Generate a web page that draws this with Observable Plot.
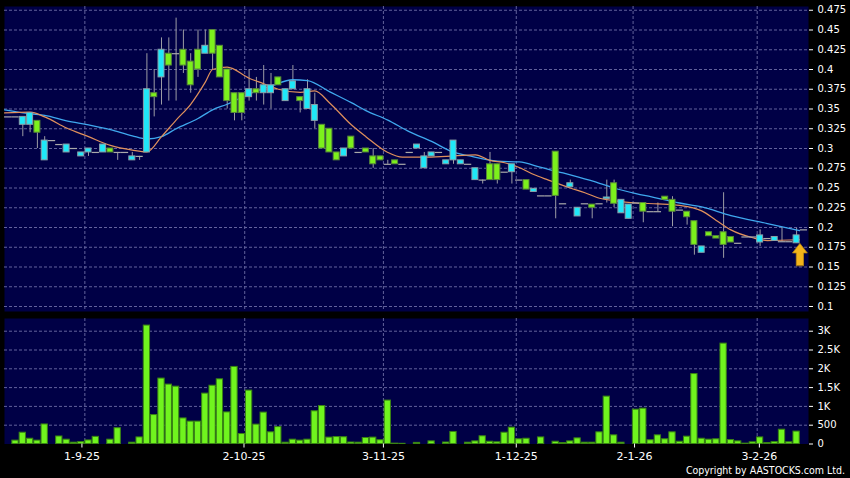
<!DOCTYPE html>
<html><head><meta charset="utf-8">
<script src="https://cdn.jsdelivr.net/npm/d3@7"></script>
<script src="https://cdn.jsdelivr.net/npm/@observablehq/plot@0.6"></script>
<style>
html,body{margin:0;padding:0;background:#000;}
#wrap{position:relative;width:850px;height:478px;background:#000;overflow:hidden;font-family:"DejaVu Sans",sans-serif;}
#price{position:absolute;left:0;top:0;}
#vol{position:absolute;left:0;top:316px;}
#copy{position:absolute;right:5px;top:465px;color:#fff;font-size:10.5px;line-height:1;font-family:"DejaVu Sans Condensed","DejaVu Sans",sans-serif;white-space:nowrap;}
</style></head><body>
<div id="wrap"><div id="price"></div><div id="vol"></div><div id="copy">Copyright by AASTOCKS.com Ltd.</div></div>
<script>
// ---- data (one entry per trading session, left to right) ----
const open  = [0.34,0.34,0.33,0.33,0.335,0.285,0.31,0.305,0.295,0.30,
               0.29,0.295,0.295,0.295,0.30,0.295,0.295,0.285,0.29,0.295,
               0.37,0.39,0.42,0.42,0.425,0.41,0.425,0.42,0.45,0.43,
               0.40,0.37,0.37,0.365,0.375,0.37,0.37,0.39,0.36,0.375,
               0.365,0.35,0.335,0.33,0.325,0.295,0.29,0.315,0.295,0.30,
               0.29,0.29,0.28,0.285,0.28,0.295,0.30,0.275,0.29,0.295,
               0.28,0.285,0.28,0.28,0.26,0.26,0.28,0.28,0.27,0.27,
               0.26,0.26,0.245,0.24,0.24,0.296,0.23,0.251,0.214,0.23,
               0.229,0.23,0.236,0.256,0.218,0.211,0.231,0.231,0.22,0.22,
               0.239,0.235,0.222,0.22,0.208,0.168,0.194,0.189,0.194,0.188,
               0.18,0.188,0.188,0.181,0.186,0.183,0.182,0.182,0.18,0.197];
const high  = [0.34,0.34,0.34,0.345,0.335,0.315,0.31,0.305,0.305,0.30,
               0.295,0.30,0.295,0.305,0.30,0.295,0.295,0.295,0.29,0.42,
               0.40,0.44,0.44,0.465,0.45,0.42,0.45,0.45,0.45,0.43,
               0.40,0.37,0.37,0.40,0.39,0.405,0.395,0.39,0.375,0.405,
               0.365,0.387,0.37,0.33,0.325,0.295,0.30,0.315,0.295,0.30,
               0.30,0.29,0.285,0.285,0.28,0.295,0.305,0.295,0.295,0.295,
               0.285,0.31,0.285,0.28,0.275,0.26,0.295,0.28,0.27,0.28,
               0.26,0.26,0.249,0.24,0.24,0.296,0.23,0.26,0.225,0.23,
               0.229,0.23,0.26,0.26,0.235,0.229,0.231,0.231,0.22,0.231,
               0.239,0.239,0.222,0.22,0.208,0.176,0.194,0.189,0.244,0.188,
               0.18,0.188,0.188,0.197,0.186,0.188,0.20,0.182,0.199,0.197];
const low   = [0.34,0.34,0.315,0.32,0.30,0.285,0.31,0.305,0.295,0.30,
               0.29,0.29,0.295,0.295,0.295,0.285,0.295,0.285,0.285,0.295,
               0.34,0.355,0.36,0.36,0.395,0.37,0.39,0.42,0.40,0.39,
               0.35,0.335,0.335,0.36,0.36,0.355,0.35,0.38,0.36,0.375,
               0.345,0.35,0.325,0.30,0.295,0.285,0.29,0.30,0.295,0.295,
               0.275,0.285,0.28,0.28,0.28,0.295,0.30,0.275,0.29,0.295,
               0.28,0.28,0.28,0.28,0.26,0.255,0.26,0.255,0.27,0.255,
               0.26,0.248,0.245,0.24,0.24,0.211,0.23,0.251,0.214,0.23,
               0.211,0.23,0.231,0.225,0.218,0.211,0.231,0.206,0.22,0.22,
               0.235,0.201,0.222,0.203,0.165,0.168,0.189,0.186,0.161,0.181,
               0.18,0.188,0.188,0.176,0.186,0.183,0.182,0.182,0.18,0.197];
const close = [0.34,0.34,0.34,0.345,0.32,0.31,0.31,0.305,0.305,0.30,
               0.295,0.30,0.295,0.305,0.295,0.295,0.295,0.29,0.29,0.375,
               0.365,0.425,0.405,0.42,0.405,0.38,0.40,0.43,0.42,0.39,
               0.36,0.345,0.345,0.375,0.37,0.38,0.38,0.38,0.375,0.385,
               0.36,0.375,0.355,0.30,0.295,0.285,0.30,0.30,0.295,0.295,
               0.28,0.285,0.28,0.28,0.28,0.295,0.305,0.29,0.295,0.295,
               0.285,0.31,0.285,0.28,0.275,0.26,0.26,0.26,0.27,0.28,
               0.26,0.248,0.249,0.24,0.24,0.24,0.23,0.256,0.225,0.23,
               0.225,0.23,0.238,0.23,0.235,0.229,0.231,0.22,0.22,0.22,
               0.235,0.22,0.222,0.213,0.178,0.176,0.189,0.186,0.178,0.181,
               0.18,0.188,0.188,0.19,0.186,0.188,0.182,0.182,0.19,0.197];
const volume = [0,90,300,140,90,520,0,200,115,35,
                50,95,190,0,115,420,0,35,175,3150,
                770,1740,1580,1525,680,595,595,1340,1550,1720,
                840,2050,265,1420,515,835,310,450,35,115,
                90,115,870,1010,170,185,180,40,35,160,
                170,100,1155,10,5,0,30,0,70,0,
                40,320,0,35,70,205,60,45,300,435,
                125,140,0,175,0,60,25,70,150,35,
                35,310,1260,230,35,0,913,940,100,230,
                125,310,60,195,1860,140,115,125,2670,105,
                70,10,45,175,25,50,380,45,330,0];

// moving averages (session index, value)
const ma10Idx = [-0.5,3,5,8,11,14,17,19,21,23,25,27,28,30,33,35,37,40,42,44,47,49,52,54,57,60,64,66,68,70,72,74,77,79,81,83,86,89,92,95,97,99,102,104,108.4];
const ma10    = [0.345,0.346,0.340,0.326,0.315,0.304,0.298,0.2956,0.315,0.336,0.356,0.384,0.400,0.403,0.389,0.382,0.375,0.371,0.373,0.358,0.330,0.315,0.295,0.289,0.289,0.290,0.292,0.285,0.282,0.276,0.267,0.260,0.250,0.244,0.237,0.234,0.231,0.230,0.228,0.221,0.209,0.197,0.187,0.1835,0.1845];
const ma20Idx = [-0.5,3,5,8,11,14,17,19,21,23,26,28,30,33,36,39,41,44,47,49,52,55,58,61,63,67,70,73,76,78,81,83,86,88,92,95,99,104,108.4];
const ma20    = [0.349,0.344,0.342,0.335,0.330,0.324,0.316,0.312,0.315,0.325,0.338,0.349,0.356,0.369,0.379,0.387,0.386,0.372,0.358,0.348,0.336,0.321,0.309,0.2953,0.291,0.284,0.283,0.276,0.269,0.264,0.256,0.250,0.243,0.239,0.231,0.226,0.215,0.205,0.196];

const priceTicks = [0.1,0.125,0.15,0.175,0.2,0.225,0.25,0.275,0.3,0.325,0.35,0.375,0.4,0.425,0.45,0.475];
const volTicks = [0,500,1000,1500,2000,2500,3000];
const volTickLabels = ["0","500","1K","1.5K","2K","2.5K","3K"];
const dateTickIdx = [10.1,32.3,51.4,69.6,85.8,102.9];
const dateGridIdx = [10.5,32.4,51.4,69.6,85.6,102.6];
const dateTickLabels = ["1-9-25","2-10-25","3-11-25","1-12-25","2-1-26","3-2-26"];
const arrowAt = [{i:108.45, p:0.152}];

// ---- styling ----
const BG = "#000046", GRID = "#62629c", WICK = "#9c9ca4", DOJI = "#aaaaaa";
const CYAN = "#1fe8f8", CYAN_EDGE = "#8aa0a8", GREEN = "#7cf01c", GREEN_EDGE = "#58883a";
const VOL = "#70f41e", VOL_EDGE = "#3a8414";
const ORANGE = "#e0905c", BLUE = "#3fa8ee";

const candles = open.map((o,i)=>({i, o, h:high[i], l:low[i], c:close[i], v:volume[i]}));
const up = candles.filter(d=>d.c>d.o), down = candles.filter(d=>d.c<d.o), flat = candles.filter(d=>d.c===d.o);
const xDomain = [-0.507, 109.63];
const W = 0.41;

const blockArrow = {draw(ctx, l){
  ctx.moveTo(-3.6,0); ctx.lineTo(-3.6,-12.5); ctx.lineTo(-7.4,-12.5);
  ctx.lineTo(0,-l); ctx.lineTo(7.4,-12.5); ctx.lineTo(3.6,-12.5); ctx.lineTo(3.6,0); ctx.closePath();
}};

const price = Plot.plot({
  width: 850, height: 316,
  marginLeft: 4, marginRight: 42, marginTop: 6, marginBottom: 5,
  style: {background:"transparent", color:"#fff", fontFamily:"DejaVu Sans", fontSize:"10px"},
  x: {domain: xDomain, axis: null},
  y: {domain: [0.093671, 0.47975], axis: null},
  marks: [
    Plot.frame({fill: BG, stroke: "none"}),
    Plot.ruleY(priceTicks, {stroke: GRID, strokeDasharray: "3,2"}),
    Plot.ruleX(dateGridIdx, {stroke: GRID, strokeDasharray: "3,2"}),
    Plot.axisY(priceTicks, {anchor:"right", label: null, tickSize:4, tickPadding:5, tickFormat: d=>String(d), color:"#fff", fontSize:10}),
    Plot.ruleX(candles.filter(d=>d.h>d.l), {x:"i", y1:"l", y2:"h", stroke: WICK, strokeWidth: 1}),
    Plot.line(ma20Idx.map((x,k)=>({x, y:ma20[k]})), {x:"x", y:"y", stroke: BLUE, strokeWidth: 1.3, curve:"monotone-x"}),
    Plot.line(ma10Idx.map((x,k)=>({x, y:ma10[k]})), {x:"x", y:"y", stroke: ORANGE, strokeWidth: 1.2, curve:"monotone-x"}),
    Plot.ruleY(flat, {x1: d=>d.i-0.5, x2: d=>d.i+0.5, y:"o", stroke: DOJI, strokeWidth: 1.2}),
    Plot.rect(up, {x1: d=>d.i-W, x2: d=>d.i+W, y1:"o", y2:"c", fill: CYAN, stroke: CYAN_EDGE, strokeWidth: 1}),
    Plot.rect(down, {x1: d=>d.i-W, x2: d=>d.i+W, y1:"o", y2:"c", fill: GREEN, stroke: GREEN_EDGE, strokeWidth: 1}),
    Plot.vector(arrowAt, {x:"i", y:"p", length: 22, anchor:"start", shape: blockArrow, fill:"#f3b41a", stroke:"#c08a10", strokeWidth: 0.8})
  ]
});
document.getElementById("price").appendChild(price);

const vol = Plot.plot({
  width: 850, height: 162,
  marginLeft: 4, marginRight: 42, marginTop: 2, marginBottom: 34.5,
  style: {background:"transparent", color:"#fff", fontFamily:"DejaVu Sans", fontSize:"10px"},
  x: {domain: xDomain, axis: null},
  y: {domain: [0, 3338], axis: null},
  marks: [
    Plot.frame({fill: BG, stroke: "none"}),
    Plot.ruleY(volTicks.filter(v=>v>0), {stroke: GRID, strokeDasharray: "3,2"}),
    Plot.ruleX(dateGridIdx, {stroke: GRID, strokeDasharray: "3,2"}),
    Plot.rect(candles.filter(d=>d.v>0), {x1: d=>d.i-0.43, x2: d=>d.i+0.43, y1: 0, y2:"v", fill: VOL, stroke: VOL_EDGE, strokeWidth: 1}),
    Plot.axisY(volTicks, {anchor:"right", label: null, tickSize:4, tickPadding:5, tickFormat: d=>volTickLabels[volTicks.indexOf(d)], color:"#fff", fontSize:10}),
    Plot.axisX(dateTickIdx, {anchor:"bottom", label: null, tickSize:4, tickPadding:4, tickFormat: d=>dateTickLabels[dateTickIdx.indexOf(d)], color:"#fff", fontSize:11})
  ]
});
document.getElementById("vol").appendChild(vol);
</script>
</body></html>
